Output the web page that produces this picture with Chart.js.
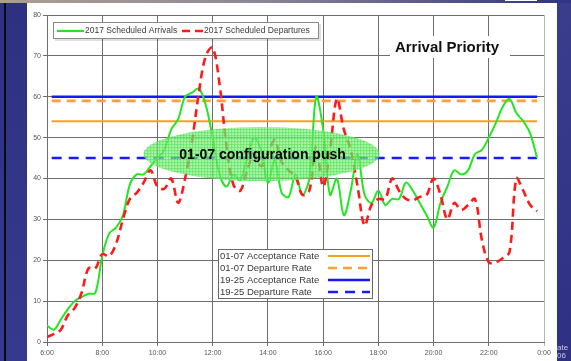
<!DOCTYPE html>
<html>
<head>
<meta charset="utf-8">
<script src="https://cdn.jsdelivr.net/npm/chart.js@4.4.1/dist/chart.umd.min.js"></script>
<style>
  html, body { margin: 0; padding: 0; background: #fff; overflow: hidden; }
  #wrap { width: 571px; height: 361px; position: relative; }
</style>
</head>
<body>
<div id="wrap"><canvas id="c" width="571" height="361"></canvas></div>
<script>
// Time of day in hours, 15-minute steps from 6:00 to 23:45
const hours = [
  6.00, 6.25, 6.50, 6.75, 7.00, 7.25, 7.50, 7.75, 8.00, 8.25, 8.50, 8.75,
  9.00, 9.25, 9.50, 9.75, 10.00, 10.25, 10.50, 10.75, 11.00, 11.25, 11.50, 11.75,
  12.00, 12.25, 12.50, 12.75, 13.00, 13.25, 13.50, 13.75, 14.00, 14.25, 14.50, 14.75,
  15.00, 15.25, 15.50, 15.75, 16.00, 16.25, 16.50, 16.75, 17.00, 17.25, 17.50, 17.75,
  18.00, 18.25, 18.50, 18.75, 19.00, 19.25, 19.50, 19.75, 20.00, 20.25, 20.50, 20.75,
  21.00, 21.25, 21.50, 21.75, 22.00, 22.25, 22.50, 22.75, 23.00, 23.25, 23.50, 23.75
];

// 2017 scheduled arrivals (rolling hourly count)
const arrivals = [
  4, 3, 5.5, 8, 10, 11, 11.8, 12, 21, 26.5, 28, 31,
  38.5, 41, 41, 43, 45, 47, 52, 54.5, 60, 61, 62, 58,
  50, 41, 38, 41, 39.6, 45, 50, 47, 39, 44.5, 36.5, 35.5,
  41, 36, 40, 60, 52, 36, 40, 31, 37, 46, 36, 34,
  37, 33.5, 35, 35, 39, 37, 34, 31, 28, 34, 38, 42,
  41, 42, 46, 47, 50, 53.5, 57.5, 59.5, 56, 54, 51, 45
];

// 2017 scheduled departures (rolling hourly count)
const departures = [
  1.2, 2, 3, 6.5, 8.3, 12, 18, 18, 21.5, 21, 24, 30,
  35, 36.5, 39, 42, 38, 37.5, 40, 34, 40, 49, 61, 70,
  72, 63, 48, 38.5, 37, 42, 46, 43, 46, 49.4, 44, 42,
  40.5, 36, 37, 48, 38, 47, 59.5, 52, 47, 38, 28.5, 33.5,
  35, 35, 40, 37, 35, 34.7, 35.5, 36, 40, 36, 30, 34,
  32.3, 33.5, 35, 25, 19.5, 19.5, 20.5, 22, 40, 37, 33.5, 32
];

// Runway configuration rates (per hour) and the span they are drawn over
const rateSpan = [6.17, 23.75];
const acceptance0107 = 54;
const departure0107 = 59;
const acceptance1925 = 60;
const departure1925 = 45;

const xTicks = [6, 8, 10, 12, 14, 16, 18, 20, 22, 24];

const series = (ys) => hours.map((h, i) => ({ x: h, y: ys[i] }));
const flat = (v) => rateSpan.map(h => ({ x: h, y: v }));

const FONT = '"Liberation Sans", Arial, sans-serif';

// Highlight ellipse for the configuration push (data units)
const pushCenter = [13.77, 46];
const pushRadii = [4.28, 6.6];
const pushText = '01-07 configuration push';

function hatchPattern(ctx) {
  const p = document.createElement('canvas');
  p.width = 3; p.height = 3;
  const g = p.getContext('2d');
  g.fillStyle = 'rgba(110,236,110,0.68)';
  g.fillRect(0, 0, 3, 3);
  g.fillStyle = 'rgba(60,215,60,0.35)';
  g.fillRect(0, 0, 3, 1);
  g.fillRect(0, 0, 1, 3);
  g.fillStyle = 'rgba(220,255,220,0.35)';
  g.fillRect(2, 2, 1, 1);
  return ctx.createPattern(p, 'repeat');
}

const slideBackground = {
  id: 'slideBackground',
  beforeDraw(chart) {
    const ctx = chart.ctx;
    ctx.save();
    // white panel
    ctx.fillStyle = '#ffffff';
    ctx.fillRect(0, 0, 571, 361);
    // left strip
    let g = ctx.createLinearGradient(0, 0, 0, 361);
    g.addColorStop(0, '#2e3180');
    g.addColorStop(1, '#363a8e');
    ctx.fillStyle = g;
    ctx.fillRect(0, 0, 27, 361);
    ctx.fillStyle = '#0a0a14';
    ctx.fillRect(4, 0, 2, 361);
    // right strip
    g = ctx.createLinearGradient(0, 0, 0, 361);
    g.addColorStop(0, '#3a3c8c');
    g.addColorStop(1, '#2e3084');
    ctx.fillStyle = g;
    ctx.fillRect(557, 0, 14, 361);
    // top band
    g = ctx.createLinearGradient(0, 0, 571, 0);
    g.addColorStop(0, '#aaa093');
    g.addColorStop(0.45, '#8e8794');
    g.addColorStop(1, '#2f3286');
    ctx.fillStyle = g;
    ctx.fillRect(0, 0, 571, 3);
    ctx.fillStyle = '#ffffff';
    ctx.fillRect(505, 0, 32, 1);
    // clipped slide text at the lower right
    ctx.fillStyle = '#c8c8d8';
    ctx.font = '8px ' + FONT;
    ctx.textBaseline = 'middle';
    ctx.fillText('ate', 557, 348);
    ctx.fillText('06', 557, 356);
    ctx.restore();
  }
};

const pushHighlight = {
  id: 'pushHighlight',
  afterDatasetsDraw(chart) {
    const { ctx, scales: { x, y } } = chart;
    const cx = x.getPixelForValue(pushCenter[0]);
    const cy = y.getPixelForValue(pushCenter[1]);
    const rx = x.getPixelForValue(pushCenter[0] + pushRadii[0]) - cx;
    const ry = cy - y.getPixelForValue(pushCenter[1] + pushRadii[1]);
    ctx.save();
    ctx.beginPath();
    ctx.ellipse(cx, cy, rx, ry, 0, 0, Math.PI * 2);
    ctx.fillStyle = hatchPattern(ctx);
    ctx.fill();
    ctx.fillStyle = '#000';
    ctx.font = 'bold 14px ' + FONT;
    ctx.textAlign = 'center';
    ctx.textBaseline = 'middle';
    ctx.fillText(pushText, cx + 1, cy + 1);
    ctx.restore();
  }
};

function legendSample(ctx, x1, x2, yy, color, width, dash) {
  ctx.save();
  ctx.strokeStyle = color;
  ctx.lineWidth = width;
  ctx.setLineDash(dash || []);
  ctx.beginPath();
  ctx.moveTo(x1, yy);
  ctx.lineTo(x2, yy);
  ctx.stroke();
  ctx.restore();
}

const annotations = {
  id: 'annotations',
  afterDraw(chart) {
    const ctx = chart.ctx;
    const ds = chart.data.datasets;
    ctx.save();
    // chart title on a white plate
    ctx.fillStyle = '#fff';
    ctx.fillRect(390, 36, 120, 22);
    ctx.fillStyle = '#111';
    ctx.font = 'bold 15px ' + FONT;
    ctx.textAlign = 'center';
    ctx.textBaseline = 'middle';
    ctx.fillText('Arrival Priority', 447, 48);

    // series legend
    ctx.fillStyle = 'rgba(0,0,0,0.12)';
    ctx.fillRect(55, 24, 266, 17);
    ctx.fillStyle = '#fff';
    ctx.fillRect(53, 22, 266, 17);
    ctx.strokeStyle = '#8a8a8a';
    ctx.lineWidth = 1;
    ctx.strokeRect(53.5, 22.5, 265, 16);
    ctx.font = '8.5px ' + FONT;
    ctx.textAlign = 'left';
    ctx.fillStyle = '#3a3a3a';
    legendSample(ctx, 57, 84, 31, ds[0].borderColor, 2.2);
    ctx.fillText(ds[0].label, 85, 31);
    legendSample(ctx, 182, 203, 31, ds[1].borderColor, 2.5, [8, 5]);
    ctx.fillText(ds[1].label, 204, 31);

    // rate legend
    ctx.fillStyle = '#fff';
    ctx.fillRect(218, 249, 155, 50);
    ctx.strokeStyle = '#6a6a6a';
    ctx.strokeRect(218.5, 249.5, 154, 49);
    ctx.font = '9.5px ' + FONT;
    const rows = [2, 3, 4, 5];
    rows.forEach((k, i) => {
      const yy = 256 + i * 12;
      ctx.fillStyle = '#3a3a3a';
      ctx.fillText(ds[k].label, 220, yy);
      legendSample(ctx, 328, 370, yy, ds[k].borderColor, ds[k].borderWidth, ds[k].borderDash);
    });
    ctx.restore();
  }
};

new Chart(document.getElementById('c'), {
  type: 'line',
  data: {
    datasets: [
      { label: '2017 Scheduled Arrivals', data: series(arrivals),
        borderColor: '#22e622', borderWidth: 2, tension: 0.35, pointRadius: 0, order: 1 },
      { label: '2017 Scheduled Departures', data: series(departures),
        borderColor: '#ff1a1a', borderWidth: 2.6, borderDash: [8, 5], tension: 0.35, pointRadius: 0, order: 0 },
      { label: '01-07 Acceptance Rate', data: flat(acceptance0107),
        borderColor: '#f7a024', borderWidth: 2, pointRadius: 0, order: 2 },
      { label: '01-07 Departure Rate', data: flat(departure0107),
        borderColor: '#ffa030', borderWidth: 2.6, borderDash: [9, 6], pointRadius: 0, order: 2 },
      { label: '19-25 Acceptance Rate', data: flat(acceptance1925),
        borderColor: '#1818f0', borderWidth: 2.6, pointRadius: 0, order: 2 },
      { label: '19-25 Departure Rate', data: flat(departure1925),
        borderColor: '#1a1aff', borderWidth: 2.6, borderDash: [10, 7], pointRadius: 0, order: 2 }
    ]
  },
  options: {
    responsive: false,
    animation: false,
    devicePixelRatio: 1,
    layout: { padding: { left: 0, top: 15, right: 27, bottom: 0 } },
    plugins: { legend: { display: false }, tooltip: { enabled: false } },
    scales: {
      x: {
        type: 'linear',
        min: 6, max: 24,
        afterFit: (s) => { s.height = 19; },
        afterBuildTicks: (s) => { s.ticks = xTicks.map(v => ({ value: v })); },
        ticks: {
          callback: (v) => (v % 24) + ':00',
          font: { family: FONT, size: 7 }, color: '#555', padding: 3, maxRotation: 0
        },
        grid: {
          color: (c) => (c.tick && c.tick.value === 24) ? '#b8b8b8' : '#6e6e6e',
          lineWidth: 1, tickLength: 4, drawOnChartArea: true
        },
        border: { display: true, color: '#6e6e6e' }
      },
      y: {
        min: 0, max: 80,
        afterFit: (s) => { s.width = 47; },
        ticks: { stepSize: 10, font: { family: FONT, size: 7 }, color: '#555', padding: 2 },
        grid: { color: '#6e6e6e', lineWidth: 1, tickLength: 4 },
        border: { display: true, color: '#6e6e6e' }
      }
    }
  },
  plugins: [slideBackground, pushHighlight, annotations]
});
</script>
</body>
</html>
